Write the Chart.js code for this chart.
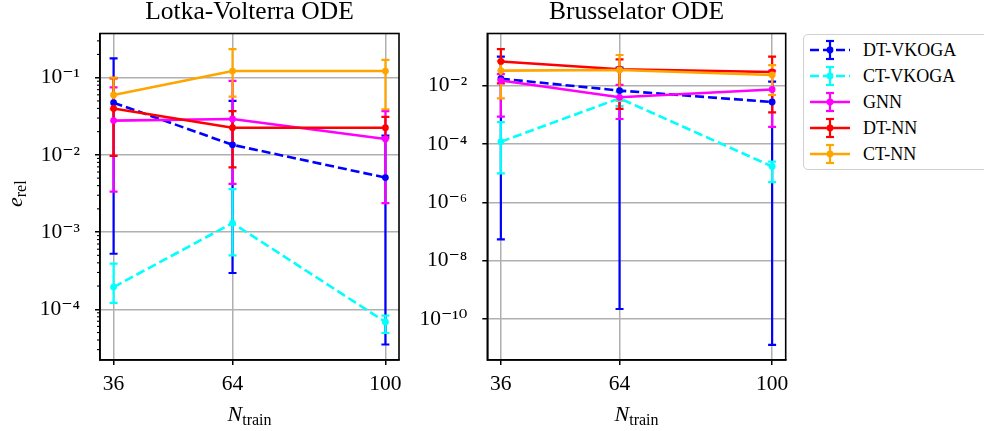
<!DOCTYPE html>
<html><head><meta charset="utf-8">
<script src="https://cdn.jsdelivr.net/npm/chart.js@4.4.1/dist/chart.umd.min.js"></script>
<style>
html,body{margin:0;padding:0;background:#fff;}
#wrap{position:relative;width:984px;height:431px;overflow:hidden;font-family:'Liberation Serif','DejaVu Serif',serif;color:#000;}
canvas{position:absolute;top:0;}
.xlab{position:absolute;top:403px;font-size:22px;line-height:22px;white-space:nowrap;transform:translateX(-50%);}
.xlab i{font-style:italic;}
.xlab sub,.ylab sub{font-size:16px;vertical-align:-4px;line-height:0;}
.ylab{position:absolute;font-size:22px;line-height:22px;white-space:nowrap;transform-origin:0 0;}
#legend{position:absolute;left:803px;top:34px;width:220px;height:134px;border:1.5px solid #d0d0d0;border-radius:5px;background:#fff;}
.lrow{position:absolute;left:0;height:22px;width:210px;}
.lrow svg{position:absolute;left:5px;top:0;}
.lrow span{position:absolute;left:59px;top:0;font-size:18px;line-height:22px;white-space:nowrap;}
</style></head>
<body><div id="wrap">
<canvas id="c1" width="499" height="431" style="left:0px"></canvas>
<canvas id="c2" width="473" height="431" style="left:400px"></canvas>
<div class="xlab" style="left:249.5px"><i>N</i><sub>train</sub></div>
<div class="xlab" style="left:636.5px"><i>N</i><sub>train</sub></div>
<div class="ylab" id="ylab" style="left:4px;top:207px;transform:rotate(-90deg);"><i>e</i><sub>rel</sub></div>
<div id="legend"></div>
</div>
<script>
// ---------- data ----------
const SERIES = ['DT-VKOGA','CT-VKOGA','GNN','DT-NN','CT-NN'];
const COLORS = ['#0000ff','#00ffff','#ff00ff','#ff0000','#ffa500'];
const DASHED = [true,true,false,false,false];
const N_TRAIN = [36,64,100];
const X_TICKS = [36,64,100];

// Lotka-Volterra ODE
const LV_DT_VKOGA    = [0.0475, 0.0135, 0.00508];
const LV_DT_VKOGA_LO = [5.24e-4, 2.95e-4, 3.5e-5];
const LV_DT_VKOGA_HI = [0.178, 0.05, 0.0178];
const LV_CT_VKOGA    = [1.94e-4, 1.31e-3, 6.85e-5];
const LV_CT_VKOGA_LO = [1.21e-4, 4.98e-4, 4.93e-5];
const LV_CT_VKOGA_HI = [3.9e-4, 3.6e-3, 8.3e-5];
const LV_GNN    = [0.0278, 0.0292, 0.0161];
const LV_GNN_LO = [0.00335, 0.0042, 0.00237];
const LV_GNN_HI = [0.075, 0.091, 0.037];
const LV_DT_NN    = [0.040, 0.0225, 0.0225];
const LV_DT_NN_LO = [0.0097, 0.0069, 0.0165];
const LV_DT_NN_HI = [0.098, 0.037, 0.031];
const LV_CT_NN    = [0.0597, 0.122, 0.122];
const LV_CT_NN_LO = [0.039, 0.0568, 0.039];
const LV_CT_NN_HI = [0.1, 0.235, 0.17];
const LV_Y_TICKS = [1e-4, 1e-3, 1e-2, 1e-1];
const LV_Y_LABELS = ['10\u207B\u2074','10\u207B\u00B3','10\u207B\u00B2','10\u207B\u00B9'];

// Brusselator ODE
const BR_DT_VKOGA    = [0.0174, 0.0068, 0.00276];
const BR_DT_VKOGA_LO = [5.4e-8, 2.2e-10, 1.3e-11];
const BR_DT_VKOGA_HI = [0.099, 0.042, 0.0137];
const BR_CT_VKOGA    = [1.2e-4, 0.0037, 1.7e-5];
const BR_CT_VKOGA_LO = [9.9e-6, 0.002, 4.9e-6];
const BR_CT_VKOGA_HI = [5.6e-4, 0.006, 2.5e-5];
const BR_GNN    = [0.0150, 0.0040, 0.0074];
const BR_GNN_LO = [8.7e-4, 7.2e-4, 3.9e-4];
const BR_GNN_HI = [0.025, 0.0106, 0.033];
const BR_DT_NN    = [0.068, 0.0366, 0.0295];
const BR_DT_NN_LO = [0.012, 0.0016, 0.00122];
const BR_DT_NN_HI = [0.18, 0.08, 0.099];
const BR_CT_NN    = [0.033, 0.0346, 0.0233];
const BR_CT_NN_LO = [0.0037, 0.003, 0.0048];
const BR_CT_NN_HI = [0.07, 0.113, 0.051];
const BR_Y_TICKS = [1e-10, 1e-8, 1e-6, 1e-4, 1e-2];
const BR_Y_LABELS = ['10\u207B\u00B9\u2070','10\u207B\u2078','10\u207B\u2076','10\u207B\u2074','10\u207B\u00B2'];

// ---------- helpers ----------
const FONT = "'Liberation Serif','DejaVu Serif',serif";
const LINE_W = 2.6, ERR_W = 2.2, CAP = 4, PT_R = 3.4;

function buildDatasets(means, los, his){
  return SERIES.map((name,i)=>({
    label:name,
    data:N_TRAIN.map((x,j)=>({x:x,y:means[i][j]})),
    errLo:los[i], errHi:his[i],
    borderColor:COLORS[i], backgroundColor:COLORS[i],
    borderWidth:LINE_W, borderDash:DASHED[i]?[9,4]:[],
    pointRadius:PT_R, pointBorderWidth:0, pointBackgroundColor:COLORS[i],
    tension:0, fill:false,
    order:SERIES.length-i
  }));
}

const errPlugin = {
  id:'errbars',
  beforeDatasetsDraw(chart){
    const ctx=chart.ctx, ys=chart.scales.y, a=chart.chartArea;
    ctx.save();
    ctx.beginPath(); ctx.rect(a.left,a.top,a.right-a.left,a.bottom-a.top); ctx.clip();
    ctx.setLineDash([]); ctx.lineWidth=ERR_W; ctx.lineCap='butt';
    chart.data.datasets.forEach((ds,di)=>{
      const meta=chart.getDatasetMeta(di);
      ctx.strokeStyle=ds.borderColor;
      meta.data.forEach((pt,i)=>{
        const x=pt.x, y1=ys.getPixelForValue(ds.errLo[i]), y2=ys.getPixelForValue(ds.errHi[i]);
        ctx.beginPath();
        ctx.moveTo(x,y1); ctx.lineTo(x,y2);
        ctx.moveTo(x-CAP,y1); ctx.lineTo(x+CAP,y1);
        ctx.moveTo(x-CAP,y2); ctx.lineTo(x+CAP,y2);
        ctx.stroke();
      });
    });
    ctx.restore();
  }
};

const framePlugin = {
  id:'frame',
  afterDraw(chart,args,opts){
    const ctx=chart.ctx, a=chart.chartArea, ys=chart.scales.y;
    ctx.save();
    ctx.strokeStyle='#000'; ctx.lineWidth=1.6; ctx.setLineDash([]);
    ctx.strokeRect(a.left,a.top,a.right-a.left,a.bottom-a.top);
    if(opts.minor){
      ctx.lineWidth=1.1;
      const lo=Math.floor(Math.log10(ys.min)), hi=Math.ceil(Math.log10(ys.max));
      for(let e=lo;e<=hi;e++){
        for(let m=2;m<=9;m++){
          const v=m*Math.pow(10,e);
          if(v<ys.min||v>ys.max) continue;
          const y=ys.getPixelForValue(v);
          ctx.beginPath(); ctx.moveTo(a.left-3,y); ctx.lineTo(a.left,y); ctx.stroke();
        }
      }
    }
    ctx.restore();
  }
};

function makeChart(id, title, datasets, yMin, yMax, yTicks, yLabels, yWidth, yPad, minor){
  return new Chart(document.getElementById(id),{
    type:'line',
    data:{datasets:datasets},
    plugins:[errPlugin, framePlugin],
    options:{
      responsive:false, animation:false, devicePixelRatio:1,
      layout:{padding:{left:0,right:0,top:0,bottom:0}},
      plugins:{
        legend:{display:false}, tooltip:{enabled:false},
        title:{display:true,text:title,color:'#000',
          font:{family:FONT,size:25.5,weight:'normal',lineHeight:1},
          padding:{top:0,bottom:8}},
        frame:{minor:minor}
      },
      scales:{
        x:{type:'linear',min:32.8,max:103.2,
          afterBuildTicks:s=>{s.ticks=X_TICKS.map(v=>({value:v}));},
          afterFit:s=>{s.height=71;},
          grid:{color:'#b0b0b0',lineWidth:1.5,tickColor:'#000',tickLength:5,tickWidth:1.5},
          border:{color:'#000',width:1.6},
          ticks:{color:'#000',font:{family:FONT,size:21.5},padding:6,maxRotation:0,autoSkip:false,
            callback:v=>String(v)}
        },
        y:{type:'logarithmic',min:yMin,max:yMax,position:'left',
          afterBuildTicks:s=>{s.ticks=yTicks.map(v=>({value:v}));},
          afterFit:s=>{s.width=yWidth;},
          grid:{color:'#b0b0b0',lineWidth:1.5,tickColor:'#000',tickLength:5,tickWidth:1.5},
          border:{color:'#000',width:1.6},
          ticks:{color:'#000',font:{family:FONT,size:21.5},padding:yPad,autoSkip:false,
            callback:(v)=>{const k=yTicks.findIndex(t=>Math.abs(Math.log10(t)-Math.log10(v))<1e-6);return k>=0?yLabels[k]:'';}}
        },
        spacer:{type:'linear',position:'right',display:true,min:0,max:1,
          afterFit:s=>{s.width=yWidth;},
          grid:{display:false,drawOnChartArea:false},
          border:{display:false},
          ticks:{display:false}
        }
      }
    }
  });
}

makeChart('c1','Lotka-Volterra ODE',
  buildDatasets([LV_DT_VKOGA,LV_CT_VKOGA,LV_GNN,LV_DT_NN,LV_CT_NN],
                [LV_DT_VKOGA_LO,LV_CT_VKOGA_LO,LV_GNN_LO,LV_DT_NN_LO,LV_CT_NN_LO],
                [LV_DT_VKOGA_HI,LV_CT_VKOGA_HI,LV_GNN_HI,LV_DT_NN_HI,LV_CT_NN_HI]),
  Math.pow(10,-4.657), Math.pow(10,-0.4275), LV_Y_TICKS, LV_Y_LABELS, 100, 15, true);

makeChart('c2','Brusselator ODE',
  buildDatasets([BR_DT_VKOGA,BR_CT_VKOGA,BR_GNN,BR_DT_NN,BR_CT_NN],
                [BR_DT_VKOGA_LO,BR_CT_VKOGA_LO,BR_GNN_LO,BR_DT_NN_LO,BR_CT_NN_LO],
                [BR_DT_VKOGA_HI,BR_CT_VKOGA_HI,BR_GNN_HI,BR_DT_NN_HI,BR_CT_NN_HI]),
  Math.pow(10,-11.406), Math.pow(10,-0.21), BR_Y_TICKS, BR_Y_LABELS, 87.3, 15, false);

// ---------- legend ----------
const leg=document.getElementById('legend');
SERIES.forEach((name,i)=>{
  const c=COLORS[i];
  const row=document.createElement('div');
  row.className='lrow';
  row.style.top=(15.3+i*25.85-11)+'px';
  const dash=DASHED[i]?' stroke-dasharray="9,4"':'';
  row.innerHTML='<svg width="42" height="22" viewBox="0 0 42 22">'+
    '<line x1="1" y1="11" x2="41" y2="11" stroke="'+c+'" stroke-width="2.6"'+dash+'/>'+
    '<line x1="21" y1="2" x2="21" y2="20" stroke="'+c+'" stroke-width="2.2"/>'+
    '<line x1="17" y1="2" x2="25" y2="2" stroke="'+c+'" stroke-width="2.2"/>'+
    '<line x1="17" y1="20" x2="25" y2="20" stroke="'+c+'" stroke-width="2.2"/>'+
    '<circle cx="21" cy="11" r="3.4" fill="'+c+'"/></svg><span>'+name+'</span>';
  leg.appendChild(row);
});
</script>
</body></html>
